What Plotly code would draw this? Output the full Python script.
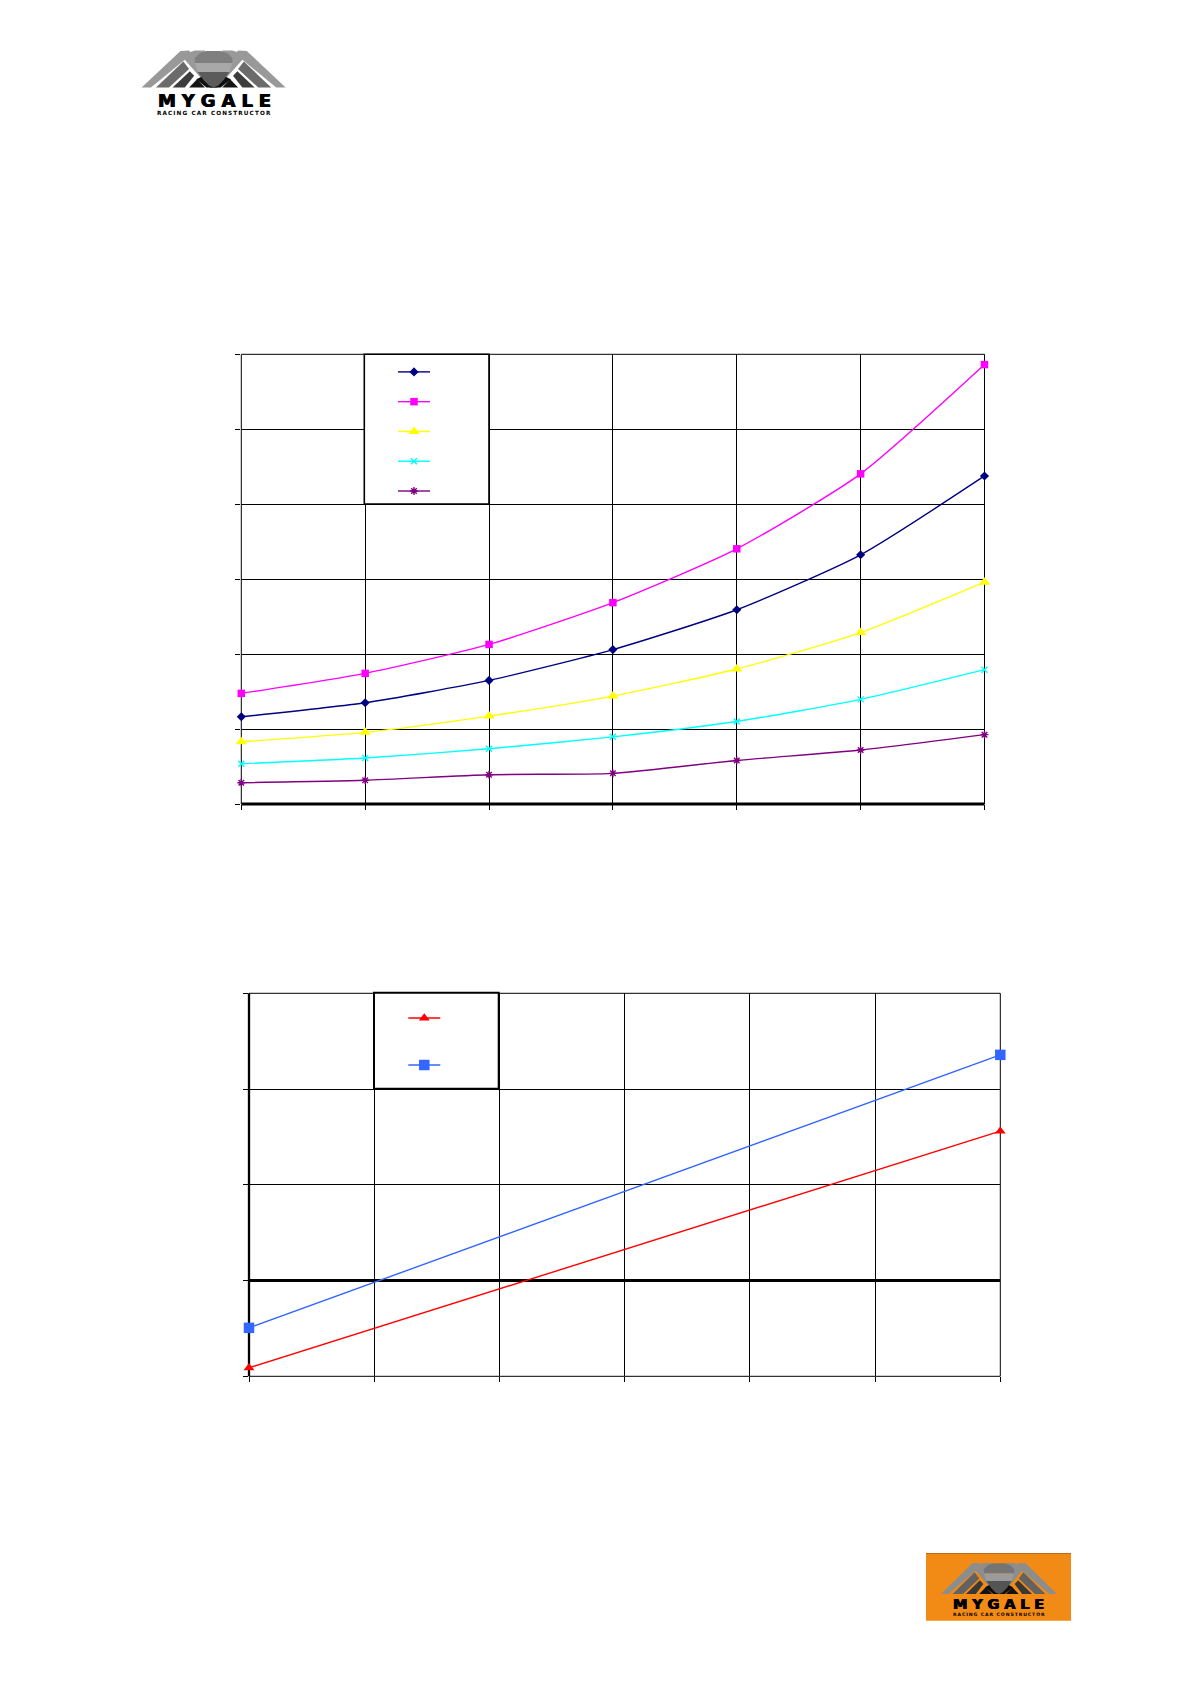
import plotly.graph_objects as go

# ---------- data (axis units; the reference prints no tick labels) ----------
X_TOP = [0, 1, 2, 3, 4, 5, 6]
NAVY = [1.164, 1.351, 1.649, 2.06, 2.592, 3.325, 4.377]
MAGENTA = [1.476, 1.743, 2.129, 2.687, 3.405, 4.405, 5.863]
YELLOW = [0.831, 0.956, 1.173, 1.44, 1.801, 2.287, 2.959]
CYAN = [0.537, 0.613, 0.737, 0.896, 1.101, 1.396, 1.792]
PURPLE = [0.284, 0.316, 0.391, 0.409, 0.581, 0.72, 0.925]

X_BOTTOM = [0, 6]
RED = [-0.911, 1.56]
BLUE = [-0.494, 2.357]

# ---------- page geometry ----------
OFF = 8            # browser default body margin
W, H = 1175, 1669


def px(x):
    return (x - OFF) / W


def py(y):
    return 1 - (y - OFF) / H


fig = go.Figure()

top_series = [
    (NAVY, "#000080", "diamond", 7),
    (MAGENTA, "#FF00FF", "square", 7.5),
    (YELLOW, "#FFFF00", "triangle-up", 10),
    (CYAN, "#00FFFF", "x-thin", 6),
    (PURPLE, "#800080", "asterisk", 6.5),
]
for vals, col, sym, size in top_series:
    fig.add_trace(go.Scatter(
        x=X_TOP, y=vals, mode="lines+markers", name=" ", legend="legend",
        xaxis="x", yaxis="y", cliponaxis=False,
        line=dict(color=col, width=1.4, shape="spline", smoothing=0.6),
        marker=dict(color=col, symbol=sym, size=size,
                    line=dict(color=col, width=1.4 if sym in ("x-thin", "asterisk") else 0)),
    ))

for vals, col, sym, size in [(RED, "#FF0000", "triangle-up", 9.5), (BLUE, "#3366FF", "square", 10.5)]:
    fig.add_trace(go.Scatter(
        x=X_BOTTOM, y=vals, mode="lines+markers", name=" ", legend="legend2",
        xaxis="x2", yaxis="y2", cliponaxis=False,
        line=dict(color=col, width=1.4),
        marker=dict(color=col, symbol=sym, size=size),
    ))

grid = dict(showgrid=True, gridcolor="black", gridwidth=1, zeroline=False, showline=False,
            showticklabels=False, ticks="outside", ticklen=5, tickwidth=1,
            tickcolor="black", fixedrange=True)

shapes = []


def edge(x0, y0, x1, y1, width=1.0):
    shapes.append(dict(type="line", xref="paper", yref="paper", layer="below",
                       x0=px(x0), x1=px(x1), y0=py(y0), y1=py(y1),
                       line=dict(color="black", width=width)))


# plot frames
L1, R1, T1, B1 = 241.3, 984.5, 354.3, 804
L2, R2, T2, B2 = 249, 1000.3, 993.3, 1376.3
edge(L1, T1, R1, T1); edge(R1, T1, R1, B1); edge(L1, T1, L1, B1); edge(L1, B1, R1, B1, 2.8)
edge(L2, T2, R2, T2); edge(R2, T2, R2, B2); edge(L2, T2, L2, B2, 2.3); edge(L2, B2, R2, B2)

shapes += [
    dict(type="rect", xref="paper", yref="paper", layer="above",
         x0=px(364.3), x1=px(489), y0=py(504), y1=py(354.3),
         fillcolor="white", line=dict(color="black", width=1.6)),
    dict(type="rect", xref="paper", yref="paper", layer="above",
         x0=px(374), x1=px(498.7), y0=py(1088.7), y1=py(992.7),
         fillcolor="white", line=dict(color="black", width=2)),
]
annotations = []

# ---------- logo drawing (unit coordinates: u across, v down) ----------
LEFT_PARTS = [
    ([(.32, .06), (.37, 0), (.44, 0), (.44, .30), (.38, .28)], 0.60),
    ([(0, 1), (.27, .01), (.33, 0), (.47, .68), (.42, .78), (.30, .25), (.065, 1)], 0.60),
    ([(.10, 1), (.29, .30), (.33, .50), (.19, 1)], 0.42),
    ([(.215, 1), (.335, .56), (.365, .68), (.30, 1)], 0.24),
    ([(.33, 1), (.385, .78), (.44, 1)], 0.08),
    ([(.38, .78), (.42, .70), (.53, 1), (.45, 1)], 0.06),
]
BODY = [
    ([(.37, .20), (.40, .08), (.45, .01), (.55, .01), (.60, .08), (.63, .20), (.63, .34), (.37, .34)], 0.50),
    ([(.37, .34), (.63, .34), (.61, .58), (.39, .58)], 0.66),
    ([(.39, .58), (.61, .58), (.57, .80), (.53, .95), (.50, 1), (.47, .95), (.43, .80)], 0.36),
]


def gray(t, base):
    r, g, b = base
    return "rgb(%d,%d,%d)" % (int(r * t), int(g * t), int(b * t))


def draw_logo(x0, y0, w, h, base, text_x, text_w, y_word, y_small, big, small):
    def path(points, mirror=False):
        coords = []
        for u, v in points:
            u = 1 - u if mirror else u
            coords.append("%.5f,%.5f" % (px(x0 + u * w), py(y0 + v * h)))
        return "M" + " L".join(coords) + " Z"

    for pts, t in LEFT_PARTS:
        for m in (False, True):
            shapes.append(dict(type="path", xref="paper", yref="paper", layer="above",
                               path=path(pts, m), fillcolor=gray(t, base), line=dict(width=0)))
    for pts, t in BODY:
        shapes.append(dict(type="path", xref="paper", yref="paper", layer="above",
                           path=path(pts), fillcolor=gray(t, base), line=dict(width=0)))
    annotations.append(dict(xref="paper", yref="paper", x=px(text_x + text_w / 2), y=py(y_word),
                            text="\u2004".join("MYGALE"), showarrow=False, xanchor="center",
                            yanchor="middle",
                            font=dict(family="DejaVu Sans", size=big, color="black", weight="bold",
                                      shadow="0.5px 0 0 #000, -0.5px 0 0 #000")))
    annotations.append(dict(xref="paper", yref="paper", x=px(text_x + text_w / 2), y=py(y_small),
                            text="\u2009".join("RACING CAR CONSTRUCTOR"), showarrow=False,
                            xanchor="center", yanchor="middle",
                            font=dict(family="DejaVu Sans", size=small, color="black", weight="bold")))


draw_logo(141.6, 50.5, 144, 37, (255, 255, 255), 157, 114, 100.5, 113, 18, 5.7)

shapes.append(dict(type="rect", xref="paper", yref="paper", layer="above",
                   x0=px(926), x1=px(1071), y0=py(1620.7), y1=py(1553),
                   fillcolor="#F28A16", line=dict(width=0)))
shapes.append(dict(type="line", xref="paper", yref="paper", layer="above",
                   x0=px(926), x1=px(1071), y0=py(1553.5), y1=py(1553.5),
                   line=dict(color="#C46A12", width=1)))
draw_logo(941, 1563, 116, 31, (235, 235, 235), 952.7, 92.3, 1604, 1614, 14.5, 4.6)

fig.update_layout(
    width=W, height=H, margin=dict(l=0, r=0, t=0, b=0), autosize=False,
    paper_bgcolor="white", plot_bgcolor="white", showlegend=True, dragmode=False,
    xaxis=dict(domain=[px(L1), px(R1)], range=[0, 6], dtick=1, tick0=0, anchor="y", **grid),
    yaxis=dict(domain=[py(B1), py(T1)], range=[0, 6], dtick=1, tick0=0, anchor="x", **grid),
    xaxis2=dict(domain=[px(L2), px(R2)], range=[0, 6], dtick=1, tick0=0, anchor="y2", **grid),
    yaxis2=dict(domain=[py(B2), py(T2)], range=[-1, 3], dtick=1, tick0=-1, anchor="x2",
                **{**grid, "zeroline": True, "zerolinecolor": "black", "zerolinewidth": 2.5}),
    legend=dict(x=px(393), y=py(352), xanchor="left", yanchor="top", borderwidth=0,
                bgcolor="rgba(0,0,0,0)", itemwidth=32, font=dict(size=20.6, color="white"),
                itemclick=False, itemdoubleclick=False),
    legend2=dict(x=px(403.3), y=py(989.6), xanchor="left", yanchor="top", borderwidth=0,
                 bgcolor="rgba(0,0,0,0)", itemwidth=32, font=dict(size=33.8, color="white"),
                 itemclick=False, itemdoubleclick=False),
    shapes=shapes, annotations=annotations,
)

fig.write_html("out.html")
